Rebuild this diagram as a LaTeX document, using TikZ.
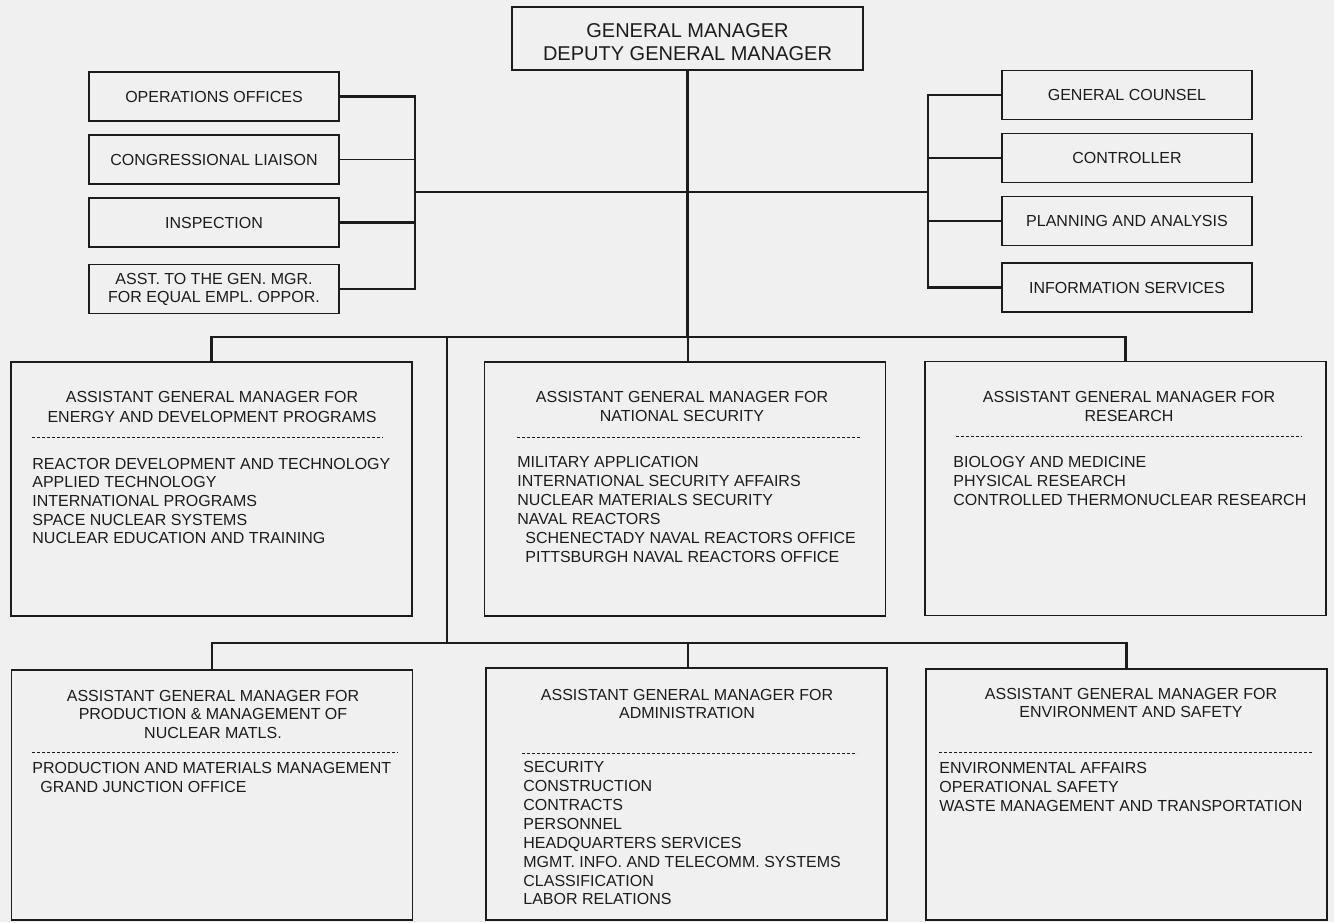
\documentclass[tikz,border=0pt]{standalone}
\usepackage{fontspec}
\setmainfont{Liberation Sans}
\definecolor{paper}{RGB}{240,240,240}
\definecolor{ink}{RGB}{28,28,28}

\begin{document}
\begin{tikzpicture}[x=0.5pt,y=-0.5pt,
	staff_box/.style={draw=ink,line width=0.9pt,minimum width=125pt,minimum height=24.5pt,inner sep=0pt,align=center,text=ink,font=\fontsize{8}{9}\selectfont},
	agm_box/.style={draw=ink,line width=0.9pt,minimum width=200.5pt,minimum height=127pt},
	head_text/.style={anchor=base,inner sep=0pt,text=ink,font=\fontsize{8}{9}\selectfont},
	list_text/.style={anchor=base west,inner sep=0pt,text=ink,font=\fontsize{8}{9}\selectfont},
	conn/.style={draw=ink,line width=1.4pt},
	rule_line/.style={draw=ink,line width=0.4pt,dash pattern=on 1.6pt off 0.9pt}]
	\path[use as bounding box,fill=paper] (0,0) rectangle (1334,922);

	% general manager and staff offices
	\node[staff_box,minimum width=175.5pt,minimum height=31.5pt] (gm) at (687.5,38.5) {};
	\node[head_text,font=\fontsize{10}{11.5}\selectfont] (gm-1) at (687.5,37) {GENERAL MANAGER};
	\node[head_text,font=\fontsize{10}{11.5}\selectfont] (gm-2) at (687.5,60) {DEPUTY GENERAL MANAGER};
	\node[staff_box] (ops) at (214,96.5) {OPERATIONS OFFICES};
	\node[staff_box] (liaison) at (214,159.5) {CONGRESSIONAL LIAISON};
	\node[staff_box] (insp) at (214,222.5) {INSPECTION};
	\node[staff_box] (eeo) at (214,289) {ASST. TO THE GEN. MGR.\\FOR EQUAL EMPL. OPPOR.};
	\node[staff_box] (counsel) at (1127,95) {GENERAL COUNSEL};
	\node[staff_box] (controller) at (1127,158) {CONTROLLER};
	\node[staff_box] (planning) at (1127,221) {PLANNING AND ANALYSIS};
	\node[staff_box] (info) at (1127,287.5) {INFORMATION SERVICES};

	\coordinate (lbus) at (415,192);
	\coordinate (rbus) at (928,192);
	\coordinate (split) at (688,337);
	\coordinate (drop) at (447,337);
	\coordinate (bus2) at (447,643);

	\draw[conn] (gm.south) -- (gm.south |- split);
	\draw[conn] (lbus) -- (rbus);
	\draw[conn] (ops.east) -| (lbus);
	\draw[conn] (insp.east) -| (lbus);
	\draw[conn] (eeo.east) -| (lbus);
	\draw[draw=ink,line width=0.5pt] (liaison.east) -- (liaison.east -| lbus);
	\draw[conn] (counsel.west) -| (rbus);
	\draw[conn] (controller.west) -| (rbus);
	\draw[conn] (planning.west) -| (rbus);
	\draw[conn] (info.west) -| (rbus);

	% assistant general managers, first row
	\node[agm_box] (edp) at (211.5,489) {};
	\node[agm_box] (natsec) at (685,489) {};
	\node[agm_box] (research) at (1125.5,488.5) {};
	\draw[conn] (edp.north) |- (split) -| (research.north);
	\draw[conn] (split) -- (split |- natsec.north);
	\draw[conn] (drop) -- (bus2);

	\node[head_text] (edp-h1) at (212,402) {ASSISTANT GENERAL MANAGER FOR};
	\node[head_text] (edp-h2) at (212,422) {ENERGY AND DEVELOPMENT PROGRAMS};
	\draw[rule_line] (32,437) -- (383,437);
	\foreach \t [count=\i] in {REACTOR DEVELOPMENT AND TECHNOLOGY, APPLIED TECHNOLOGY, INTERNATIONAL PROGRAMS, SPACE NUCLEAR SYSTEMS, NUCLEAR EDUCATION AND TRAINING}
		\node[list_text] (edp-\i) at (32,{450.3+18.7*\i}) {\t};

	\node[head_text] (natsec-h1) at (682,402) {ASSISTANT GENERAL MANAGER FOR};
	\node[head_text] (natsec-h2) at (682,421) {NATIONAL SECURITY};
	\draw[rule_line] (517,437) -- (860,437);
	\foreach \t [count=\i] in {MILITARY APPLICATION, INTERNATIONAL SECURITY AFFAIRS, NUCLEAR MATERIALS SECURITY, NAVAL REACTORS, \hspace*{4pt}SCHENECTADY NAVAL REACTORS OFFICE, \hspace*{4pt}PITTSBURGH NAVAL REACTORS OFFICE}
		\node[list_text] (natsec-\i) at (517,{448+19*\i}) {\t};

	\node[head_text] (research-h1) at (1129,402) {ASSISTANT GENERAL MANAGER FOR};
	\node[head_text] (research-h2) at (1129,421) {RESEARCH};
	\draw[rule_line] (956,436) -- (1302,436);
	\foreach \t [count=\i] in {BIOLOGY AND MEDICINE, PHYSICAL RESEARCH, CONTROLLED THERMONUCLEAR RESEARCH}
		\node[list_text] (research-\i) at (953,{448+19.3*\i}) {\t};

	% assistant general managers, second row
	\node[agm_box,minimum height=125pt] (prodmgmt) at (212,795) {};
	\node[agm_box,minimum height=126pt] (admin) at (686.5,794) {};
	\node[agm_box,minimum height=125.5pt] (envsafe) at (1126.5,794.5) {};
	\draw[conn] (prodmgmt.north) |- (bus2) -| (envsafe.north);
	\draw[conn] (split |- bus2) -- (split |- admin.north);

	\node[head_text] (prodmgmt-h1) at (213,701) {ASSISTANT GENERAL MANAGER FOR};
	\node[head_text] (prodmgmt-h2) at (213,719) {PRODUCTION \& MANAGEMENT OF};
	\node[head_text] (prodmgmt-h3) at (213,738) {NUCLEAR MATLS.};
	\draw[rule_line] (32,752) -- (398,752);
	\foreach \t [count=\i] in {PRODUCTION AND MATERIALS MANAGEMENT, \hspace*{4pt}GRAND JUNCTION OFFICE}
		\node[list_text] (prodmgmt-\i) at (32,{754+19*\i}) {\t};

	\node[head_text] (admin-h1) at (687,700) {ASSISTANT GENERAL MANAGER FOR};
	\node[head_text] (admin-h2) at (687,718) {ADMINISTRATION};
	\draw[rule_line] (522,753) -- (857,753);
	\foreach \t [count=\i] in {SECURITY, CONSTRUCTION, CONTRACTS, PERSONNEL, HEADQUARTERS SERVICES, MGMT. INFO. AND TELECOMM. SYSTEMS, CLASSIFICATION, LABOR RELATIONS}
		\node[list_text] (admin-\i) at (523,{754.1+18.86*\i}) {\t};

	\node[head_text] (envsafe-h1) at (1131,699) {ASSISTANT GENERAL MANAGER FOR};
	\node[head_text] (envsafe-h2) at (1131,717) {ENVIRONMENT AND SAFETY};
	\draw[rule_line] (939,752) -- (1312,752);
	\foreach \t [count=\i] in {ENVIRONMENTAL AFFAIRS, OPERATIONAL SAFETY, WASTE MANAGEMENT AND TRANSPORTATION}
		\node[list_text] (envsafe-\i) at (939,{754+19*\i}) {\t};
\end{tikzpicture}
\end{document}
